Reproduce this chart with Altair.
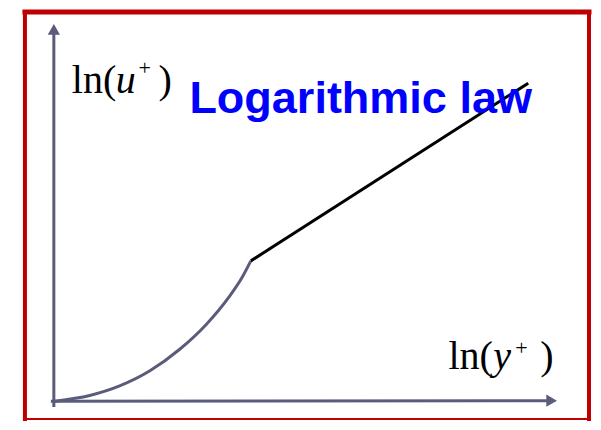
import altair as alt
import pandas as pd

# Schematic: law of the wall (coordinates relative to axis origin, y up)
curve_x = [0, 35, 65, 95, 125, 151.7, 175, 188.3, 196.7]
curve_y = [0, 5.7, 15.3, 30.3, 52, 77, 105.3, 125.3, 141.3]
log_x = [196.7, 475]
log_y = [141.3, 320.3]

AXIS_COLOR = "#5b5b7c"
W, H = 585, 414
xdom = [-47, 538]
ydom = [-20, 394]
xs = alt.Scale(domain=xdom, nice=False, zero=False)
ys = alt.Scale(domain=ydom, nice=False, zero=False)

def X(f="x"):
    return alt.X(f"{f}:Q", scale=xs, axis=None)

def Y(f="y"):
    return alt.Y(f"{f}:Q", scale=ys, axis=None)

# frame (red border)
border = pd.DataFrame({
    "x": [-30, -30, -30, 536],
    "x2": [536, 536, -30, 536],
    "y": [392, -18, -18, -18],
    "y2": [392, -18, 392, 392],
    "w": [5, 2, 4, 4],
    "id": ["t", "b", "l", "r"],
})
frame = alt.Chart(border).mark_rule(color="#c00000", strokeCap="square").encode(
    x=X(), x2="x2:Q", y=Y(), y2="y2:Q",
    strokeWidth=alt.StrokeWidth("w:Q", scale=None, legend=None),
)

# axes lines
axes_df = pd.DataFrame({
    "x": [-1, -4], "x2": [-1, 497], "y": [-6, 0], "y2": [374, 0.5],
})
axes = alt.Chart(axes_df).mark_rule(color=AXIS_COLOR, strokeWidth=3).encode(
    x=X(), x2="x2:Q", y=Y(), y2="y2:Q"
)

up = alt.Chart(pd.DataFrame({"x": [-1], "y": [374.5]})).mark_point(
    shape="triangle-up", filled=True, size=150, color=AXIS_COLOR, opacity=1
).encode(x=X(), y=Y())
right = alt.Chart(pd.DataFrame({"x": [498.5], "y": [0.5]})).mark_point(
    shape="triangle-right", filled=True, size=150, color=AXIS_COLOR, opacity=1
).encode(x=X(), y=Y())

curve = alt.Chart(pd.DataFrame({"x": curve_x, "y": curve_y, "o": range(len(curve_x))})).mark_line(
    color=AXIS_COLOR, strokeWidth=3, interpolate="monotone"
).encode(x=X(), y=Y(), order="o:Q")

logline = alt.Chart(pd.DataFrame({"x": log_x, "y": log_y})).mark_line(
    color="black", strokeWidth=3
).encode(x=X(), y=Y())

# labels
def txt(df, **kw):
    return alt.Chart(df).mark_text(align="left", baseline="alphabetic", **kw).encode(
        x=X(), y=Y(), text="t:N"
    )

serif = "Liberation Serif"
lab_reg = txt(pd.DataFrame({"x": [17, 104, 395, 487], "y": [310, 310, 32, 32],
                            "t": ["ln(", ")", "ln(", ")"]}),
              font=serif, fontSize=40, color="black")
lab_it = txt(pd.DataFrame({"x": [61, 440], "y": [310, 32], "t": ["u", "y"]}),
             font=serif, fontSize=40, fontStyle="italic", color="black")
lab_sup = txt(pd.DataFrame({"x": [84, 462], "y": [329, 46], "t": ["+", "+"]}),
              font=serif, fontSize=22, color="black")

title = txt(pd.DataFrame({"x": [135], "y": [290], "t": ["Logarithmic law"]}),
            font="Liberation Sans", fontSize=45, fontWeight="bold", color="#0000ff")

chart = alt.layer(frame, axes, up, right, curve, logline, title, lab_reg, lab_it, lab_sup).properties(
    width=W, height=H,
    autosize=alt.AutoSizeParams(type="fit", contains="padding"),
    padding=0,
).configure_view(stroke=None)

chart.save("out.html", embed_options={"renderer": "svg", "actions": False})
